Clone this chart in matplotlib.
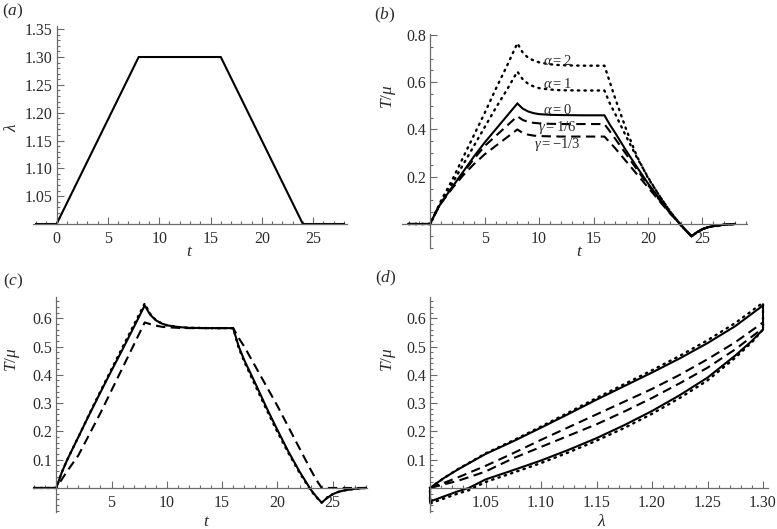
import matplotlib
matplotlib.use("Agg")
import matplotlib.pyplot as plt
from matplotlib.ticker import MultipleLocator, FixedLocator, FormatStrFormatter

plt.rcParams['font.family'] = ['Liberation Serif', 'DejaVu Serif']
plt.rcParams['mathtext.fontset'] = 'custom'
plt.rcParams['mathtext.rm'] = 'Liberation Serif'
plt.rcParams['mathtext.it'] = 'Liberation Serif:italic'

# ---------------- data ----------------
# (a) stretch history
t_a = [-2, 0, 8, 16, 24, 28]
lam_a = [1.0, 1.0, 1.3, 1.3, 1.0, 1.0]

# shared time grid for (b) and (c)
t_grid = [-2, 0, 0.5, 1, 2, 3, 4, 5, 6, 7, 8,
          8.5, 9, 9.5, 10, 11, 12, 14, 16,
          16.5, 17, 18, 19, 20, 21, 22, 23, 23.5, 24,
          24.5, 25, 25.5, 26, 27, 28]

# (b) stress histories
b_alpha0 = [0, 0, 0.05, 0.09, 0.155, 0.22, 0.285, 0.345, 0.40, 0.455, 0.51,
            0.488, 0.476, 0.469, 0.465, 0.462, 0.461, 0.46, 0.46,
            0.42, 0.385, 0.31, 0.24, 0.172, 0.11, 0.05, -0.002, -0.027, -0.052,
            -0.035, -0.022, -0.014, -0.009, -0.003, 0.0]
b_alpha1 = [0, 0, 0.05, 0.095, 0.17, 0.25, 0.33, 0.41, 0.49, 0.565, 0.645,
            0.612, 0.593, 0.582, 0.575, 0.569, 0.566, 0.565, 0.565,
            0.51, 0.465, 0.37, 0.28, 0.198, 0.123, 0.055, -0.004, -0.029, -0.052,
            -0.035, -0.022, -0.014, -0.009, -0.003, 0.0]
b_alpha2 = [0, 0, 0.05, 0.1, 0.185, 0.28, 0.375, 0.47, 0.57, 0.665, 0.765,
            0.725, 0.703, 0.692, 0.684, 0.676, 0.672, 0.67, 0.67,
            0.60, 0.53, 0.40, 0.285, 0.195, 0.123, 0.056, -0.004, -0.029, -0.052,
            -0.035, -0.022, -0.014, -0.009, -0.003, 0.0]
b_gamma_p16 = [0, 0, 0.05, 0.09, 0.155, 0.215, 0.275, 0.33, 0.372, 0.414, 0.456,
               0.44, 0.432, 0.428, 0.426, 0.424, 0.423, 0.423, 0.423,
               0.392, 0.36, 0.295, 0.23, 0.165, 0.105, 0.048, -0.003, -0.028, -0.052,
               -0.035, -0.022, -0.014, -0.009, -0.003, 0.0]
b_gamma_m13 = [0, 0, 0.048, 0.088, 0.15, 0.205, 0.253, 0.295, 0.33, 0.365, 0.40,
               0.385, 0.378, 0.374, 0.372, 0.371, 0.37, 0.37, 0.37,
               0.345, 0.32, 0.265, 0.21, 0.155, 0.1, 0.046, -0.003, -0.028, -0.052,
               -0.035, -0.022, -0.014, -0.009, -0.003, 0.0]
b_labels = [r"$\alpha=2$", r"$\alpha=1$", r"$\alpha=0$", r"$\gamma=1/6$", r"$\gamma=-1/3$"]
b_label_t = [11.7, 11.7, 11.7, 11.7, 11.7]
b_label_y = [0.69, 0.593, 0.483, 0.407, 0.336]

# (c) stress histories
c_solid = [0, 0, 0.055, 0.1, 0.18, 0.26, 0.338, 0.415, 0.49, 0.567, 0.645,
           0.612, 0.593, 0.582, 0.575, 0.569, 0.566, 0.565, 0.565,
           0.50, 0.452, 0.37, 0.285, 0.205, 0.128, 0.058, -0.005, -0.03, -0.052,
           -0.035, -0.022, -0.014, -0.009, -0.003, 0.0]
c_dotted = [0, 0, 0.055, 0.1, 0.18, 0.262, 0.342, 0.42, 0.498, 0.575, 0.652,
            0.615, 0.594, 0.582, 0.575, 0.569, 0.566, 0.565, 0.565,
            0.495, 0.447, 0.362, 0.278, 0.198, 0.123, 0.054, -0.008, -0.032, -0.052,
            -0.035, -0.022, -0.014, -0.009, -0.003, 0.0]
c_dashed = [0, 0, 0.03, 0.06, 0.115, 0.19, 0.265, 0.345, 0.425, 0.505, 0.585,
            0.579, 0.574, 0.57, 0.568, 0.566, 0.565, 0.565, 0.565,
            0.53, 0.50, 0.43, 0.36, 0.29, 0.215, 0.14, 0.065, 0.03, 0.0,
            0.0, 0.0, 0.0, 0.0, 0.0, 0.0]

# (d) stress-stretch loops
lam_up = [1.0, 1.0125, 1.025, 1.05, 1.075, 1.1, 1.125, 1.15, 1.175, 1.2, 1.225, 1.25, 1.275, 1.3]
lam_dn = [1.3, 1.29, 1.275, 1.25, 1.225, 1.2, 1.175, 1.15, 1.125, 1.1, 1.075, 1.05, 1.035, 1.025, 1.0]
d_solid_up = [0, 0.035, 0.065, 0.12, 0.165, 0.213, 0.262, 0.312, 0.36, 0.408, 0.458, 0.512, 0.572, 0.645]
d_solid_dn = [0.56, 0.52, 0.468, 0.39, 0.328, 0.272, 0.222, 0.176, 0.135, 0.097, 0.063, 0.03, 0.0, -0.012, -0.048]
d_dot_up = [0, 0.035, 0.066, 0.122, 0.168, 0.217, 0.267, 0.318, 0.367, 0.416, 0.467, 0.522, 0.583, 0.655]
d_dot_dn = [0.56, 0.515, 0.46, 0.38, 0.318, 0.262, 0.212, 0.167, 0.126, 0.088, 0.054, 0.021, -0.008, -0.02, -0.055]
d_dash_up = [0, 0.018, 0.037, 0.078, 0.123, 0.17, 0.215, 0.26, 0.305, 0.35, 0.4, 0.455, 0.515, 0.585]
d_dash_dn = [0.565, 0.535, 0.49, 0.425, 0.37, 0.318, 0.27, 0.225, 0.185, 0.145, 0.105, 0.058, 0.038, 0.025, 0.0]

# ---------------- figure ----------------
W, H = 777, 529
fig = plt.figure(figsize=(W / 100, H / 100), dpi=100)

AX_COL = '#6a6a6a'
TXT_COL = '#2a2a2a'
LW = 1.5
SOLID = dict(color='black', lw=LW, solid_joinstyle='miter', clip_on=False)
DOT = dict(color='black', lw=1.7, linestyle=(0, (0.6, 2.2)), dash_capstyle='round', clip_on=False)
DASH = dict(color='black', lw=LW, linestyle=(0, (4.5, 2.6)), clip_on=False)


def make_ax(px_left, px_right, px_top, px_bottom):
    return fig.add_axes([px_left / W, 1 - px_bottom / H,
                         (px_right - px_left) / W, (px_bottom - px_top) / H])


def style(ax, xlim, ylim, x0, y0, xmaj, xmin, ymaj, ymin, xfmt, yfmt):
    ax.set_xlim(*xlim)
    ax.set_ylim(*ylim)
    ax.patch.set_alpha(0)
    for s in ('top', 'right'):
        ax.spines[s].set_visible(False)
    ax.spines['left'].set_position(('data', x0))
    ax.spines['bottom'].set_position(('data', y0))
    for s in ('left', 'bottom'):
        ax.spines[s].set_color(AX_COL)
        ax.spines[s].set_linewidth(0.9)
    ax.xaxis.set_major_locator(FixedLocator(xmaj))
    ax.xaxis.set_minor_locator(MultipleLocator(xmin))
    ax.yaxis.set_major_locator(FixedLocator(ymaj))
    ax.yaxis.set_minor_locator(MultipleLocator(ymin))
    ax.xaxis.set_major_formatter(FormatStrFormatter(xfmt))
    ax.yaxis.set_major_formatter(FormatStrFormatter(yfmt))
    ax.tick_params(which='both', direction='in', color=AX_COL, labelcolor=TXT_COL,
                   labelsize=11.5, width=0.8)
    ax.tick_params(which='major', length=5)
    ax.tick_params(which='minor', length=2.5)
    ax.tick_params(axis='x', which='both', pad=5)
    ax.tick_params(axis='y', which='both', pad=3)


def ftext(px, py, s, rot=0, size=12.5):
    fig.text(px / W, 1 - py / H, s, rotation=rot, ha='center', va='center',
             fontsize=size, color=TXT_COL)


# (a)
axa = make_ax(33, 347, 26.4, 224)
style(axa, (-2.3, 28.3), (1.0, 1.355), 0, 1.0,
      [0, 5, 10, 15, 20, 25], 1, [1.05, 1.10, 1.15, 1.20, 1.25, 1.30, 1.35], 0.01, '%d', '%.2f')
axa.plot(t_a, lam_a, **SOLID)

# (b)
axb = make_ax(402, 747, 33.8, 247.6)
style(axb, (-2.6, 29.1), (-0.1, 0.805), 0, 0,
      [5, 10, 15, 20, 25], 1, [0.2, 0.4, 0.6, 0.8], 0.05, '%d', '%.1f')
axb.plot(t_grid, b_alpha2, **DOT)
axb.plot(t_grid, b_alpha1, **DOT)
axb.plot(t_grid, b_gamma_p16, **DASH)
axb.plot(t_grid, b_gamma_m13, **DASH)
axb.plot(t_grid, b_alpha0, **SOLID)
for s, tx, ty in zip(b_labels, b_label_t, b_label_y):
    axb.text(tx, ty, s, ha='center', va='center', fontsize=10.5, color=TXT_COL)

# (c)
axc = make_ax(33, 367, 297, 512)
style(axc, (-2.1, 28.1), (-0.085, 0.675), 0, 0,
      [5, 10, 15, 20, 25], 1, [0.1, 0.2, 0.3, 0.4, 0.5, 0.6], 0.02, '%d', '%.1f')
axc.plot(t_grid, c_dashed, **DASH)
axc.plot(t_grid, c_dotted, **DOT)
axc.plot(t_grid, c_solid, **SOLID)

# (d)
axd = make_ax(430, 768, 297, 512)
style(axd, (1.0, 1.3045), (-0.085, 0.675), 1.0, 0,
      [1.05, 1.10, 1.15, 1.20, 1.25, 1.30], 0.01, [0.1, 0.2, 0.3, 0.4, 0.5, 0.6], 0.02, '%.2f', '%.1f')
axd.plot(lam_up + lam_dn + [lam_up[0]], d_dash_up + d_dash_dn + [d_dash_up[0]], **DASH)
axd.plot(lam_up + lam_dn + [lam_up[0]], d_dot_up + d_dot_dn + [d_dot_up[0]], **DOT)
axd.plot(lam_up + lam_dn + [lam_up[0]], d_solid_up + d_solid_dn + [d_solid_up[0]], **SOLID)

# axis labels
ftext(12, 127, r"$\lambda$", rot=90)
ftext(190, 252, r"$t$")
ftext(388, 97, r"$T/\mu$", rot=90)
ftext(580, 252, r"$t$")
ftext(12, 360, r"$T/\mu$", rot=90)
ftext(207, 522, r"$t$")
ftext(388, 360, r"$T/\mu$", rot=90)
ftext(602, 522, r"$\lambda$")

# panel labels
ftext(13, 11, r"$(a)$")
ftext(385, 15, r"$(b)$")
ftext(13, 281, r"$(c)$")
ftext(386, 278, r"$(d)$")

fig.savefig("out.png", dpi=100)
